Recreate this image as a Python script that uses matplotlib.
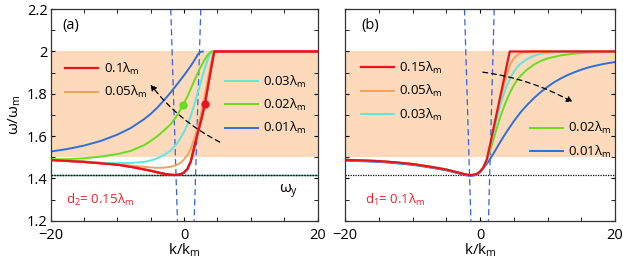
import numpy as np
import matplotlib.pyplot as plt
from matplotlib.ticker import MultipleLocator

plt.rcParams['font.family'] = ['Open Sans', 'DejaVu Sans']
plt.rcParams['mathtext.fontset'] = 'custom'
plt.rcParams['mathtext.rm'] = 'Open Sans'
plt.rcParams['mathtext.it'] = 'Open Sans'

# colours of the five curves
c_red, c_orange, c_cyan = '#e8141c', '#f0a25e', '#5ee6e0'
c_green, c_blue = '#66dd1e', '#2f6fd8'
band_color = '#fcdabb'

# ---------------- panel (a): d2 = 0.15 lambda_m -----------------
a_red_k = [-20, -15, -10, -7.5, -5, -3.5, -2.5, -1.5, -1, -0.5, 0, 0.5, 1, 1.5, 2, 2.5, 3.1, 3.7, 4.5, 20]
a_red_w = [1.487, 1.478, 1.465, 1.452, 1.436, 1.425, 1.419, 1.416, 1.417, 1.42, 1.428, 1.445,
           1.48, 1.545, 1.61, 1.67, 1.75, 1.86, 2.0, 2.0]
a_orange_k = [-20, -15, -10, -7.5, -5, -4, -3, -2, -1, -0.5, 0, 0.5, 1, 1.5, 2, 2.5, 3, 3.5, 4,
              4.3, 4.45]
a_orange_w = [1.487, 1.48, 1.468, 1.459, 1.452, 1.45, 1.451, 1.455, 1.465, 1.475, 1.49, 1.51,
              1.54, 1.585, 1.64, 1.70, 1.775, 1.86, 1.94, 1.985, 2.0]
a_cyan_k = [-20, -17.5, -15, -12.5, -10, -8, -6, -5, -4, -3, -2, -1, 0, 0.5, 1, 1.5, 2, 2.5, 3,
            3.5, 3.8, 4.1]
a_cyan_w = [1.488, 1.483, 1.478, 1.474, 1.472, 1.473, 1.478, 1.485, 1.495, 1.51, 1.532, 1.568,
            1.62, 1.655, 1.695, 1.745, 1.80, 1.855, 1.91, 1.958, 1.985, 2.0]
a_green_k = [-20, -17.5, -15, -12.5, -10, -8, -6, -5, -4, -3, -2, -1, -0.2, 0.5, 1, 1.5, 2, 2.5,
             3, 3.5, 3.9, 4.2]
a_green_w = [1.49, 1.491, 1.495, 1.503, 1.515, 1.53, 1.557, 1.577, 1.6, 1.627, 1.657, 1.70,
             1.745, 1.787, 1.824, 1.86, 1.895, 1.928, 1.957, 1.982, 1.996, 2.0]
a_blue_k = [-20, -17.5, -15, -12.5, -10, -8, -6, -5, -4, -3, -2, -1, 0, 0.5, 1, 1.5, 1.8, 2.1,
            2.4, 2.8]
a_blue_w = [1.527, 1.539, 1.555, 1.577, 1.607, 1.638, 1.68, 1.705, 1.735, 1.77, 1.807, 1.847,
            1.888, 1.91, 1.932, 1.956, 1.972, 1.988, 1.997, 2.0]
a_labels = ['0.1λ$_\\mathregular{m}$', '0.05λ$_\\mathregular{m}$', '0.03λ$_\\mathregular{m}$',
            '0.02λ$_\\mathregular{m}$', '0.01λ$_\\mathregular{m}$']
a_dots_k = [-0.2, 3.1]
a_dots_w = [1.745, 1.75]

# ---------------- panel (b): d1 = 0.1 lambda_m -----------------
b_base_k = [-20, -15, -12.5, -10, -7.5, -5, -4, -3, -2, -1.5, -1, -0.5, 0, 0.5]
b_base_w = [1.488, 1.482, 1.476, 1.468, 1.456, 1.442, 1.434, 1.426, 1.418, 1.416, 1.417, 1.421,
            1.432, 1.452]
b_red_k = [1, 1.5, 2.5, 3.5, 4.4, 20]
b_red_w = [1.49, 1.56, 1.712, 1.863, 2.0, 2.0]
b_orange_k = [1, 1.5, 2, 2.5, 3, 3.5, 4, 4.5, 5, 5.5, 6, 7, 8, 20]
b_orange_w = [1.488, 1.55, 1.632, 1.705, 1.772, 1.835, 1.895, 1.94, 1.967, 1.983, 1.992, 1.998,
              2.0, 2.0]
b_cyan_k = [1, 1.5, 2, 2.5, 3, 3.5, 4, 4.5, 5, 5.5, 6, 7, 8, 9, 10, 12, 20]
b_cyan_w = [1.485, 1.545, 1.615, 1.685, 1.745, 1.797, 1.84, 1.875, 1.903, 1.925, 1.942, 1.965,
            1.98, 1.989, 1.994, 1.999, 2.0]
b_green_k = [1, 1.5, 2, 2.5, 3, 3.5, 4, 4.5, 5, 5.5, 6, 7, 8, 9, 10, 12, 14, 16, 20]
b_green_w = [1.48, 1.53, 1.585, 1.64, 1.69, 1.735, 1.775, 1.81, 1.84, 1.865, 1.885, 1.915, 1.938,
             1.955, 1.967, 1.982, 1.99, 1.995, 1.998]
b_blue_k = [1, 1.5, 2, 2.5, 3, 3.5, 4, 5, 6, 7, 8, 9, 10, 11, 12, 13, 14, 15, 16, 17, 18, 19, 20]
b_blue_w = [1.468, 1.492, 1.518, 1.545, 1.572, 1.598, 1.623, 1.67, 1.712, 1.748, 1.78, 1.808,
            1.833, 1.855, 1.873, 1.889, 1.902, 1.914, 1.924, 1.932, 1.939, 1.945, 1.95]
b_labels = ['0.15λ$_\\mathregular{m}$', '0.05λ$_\\mathregular{m}$', '0.03λ$_\\mathregular{m}$',
            '0.02λ$_\\mathregular{m}$', '0.01λ$_\\mathregular{m}$']

# band, threshold and the two tilted light lines
band = (1.5, 2.0)
omega_y = 1.414
a_light = [([-2.0, -1.0], [2.2, 1.2]), ([2.5, 1.5], [2.2, 1.2])]
b_light = [([-2.3, -1.35], [2.2, 1.2]), ([2.1, 1.25], [2.2, 1.2])]


fig = plt.figure(figsize=(6.23, 2.58), dpi=100)
axa = fig.add_axes([0.0813, 0.1445, 0.4285, 0.82])
axb = fig.add_axes([0.5538, 0.1445, 0.4334, 0.82])

def style(ax):
    ax.set_xlim(-20, 20)
    ax.set_ylim(1.2, 2.2)
    ax.set_xticks([-20, 0, 20])
    ax.set_yticks([1.2, 1.4, 1.6, 1.8, 2.0, 2.2])
    ax.xaxis.set_minor_locator(MultipleLocator(5))
    ax.yaxis.set_minor_locator(MultipleLocator(0.1))
    ax.tick_params(which='both', direction='in', top=True, right=True, labelsize=10.5)
    ax.tick_params(axis='x', pad=5)
    ax.tick_params(axis='y', pad=2)
    ax.tick_params(which='both', length=3)
    for s in ax.spines.values():
        s.set_linewidth(0.9)
        s.set_color('#333333')
    ax.axhspan(band[0], band[1], color=band_color, lw=0, zorder=0)
    ax.set_xlabel('k/k$_\\mathregular{m}$', fontsize=11, labelpad=-1)

style(axa)
style(axb)
axa.set_yticklabels(['1.2', '1.4', '1.6', '1.8', '2', '2.2'])
axb.set_yticklabels([])
axa.set_ylabel('ω/ω$_\\mathregular{m}$', fontsize=11, labelpad=3)

leg_kw = dict(frameon=False, fontsize=9.5, handlelength=2.5, handletextpad=0.4,
              labelspacing=0.55, borderpad=0, borderaxespad=0)

# ---- panel (a)
axa.axhline(omega_y, color='#3aa58c', lw=1.0, zorder=1)
axa.axhline(omega_y, color='k', lw=1.0, ls=(0, (1, 1)), zorder=1)
for xs, ys in a_light:
    axa.plot(xs, ys, color='#3560e6', lw=0.9, ls=(0, (5, 3)), zorder=2)
ha = []
for k, w, c, lw in [(a_red_k, a_red_w, c_red, 1.6), (a_orange_k, a_orange_w, c_orange, 1.4),
                    (a_cyan_k, a_cyan_w, c_cyan, 1.4), (a_green_k, a_green_w, c_green, 1.4),
                    (a_blue_k, a_blue_w, c_blue, 1.4)]:
    ha.append(axa.plot(k, w, color=c, lw=lw)[0])
axa.plot(a_red_k, a_red_w, color=c_red, lw=1.6, zorder=3)
axa.plot(a_dots_k[0], a_dots_w[0], 'o', color=c_green, ms=5, zorder=4)
axa.plot(a_dots_k[1], a_dots_w[1], 'o', color=c_red, ms=5, zorder=4)
axa.annotate('', xy=(-5.3, 1.855), xytext=(5.7, 1.566),
             arrowprops=dict(arrowstyle='-|>', color='k', lw=0.9, ls=(0, (4, 3)),
                             connectionstyle='arc3,rad=-0.12', mutation_scale=9))
la = axa.legend(ha[:2], a_labels[:2], loc='upper left', bbox_to_anchor=(0.055, 0.755), **leg_kw)
axa.add_artist(la)
axa.legend(ha[2:], a_labels[2:], loc='upper left', bbox_to_anchor=(0.652, 0.695), **leg_kw)
axa.text(0.056, 0.097, 'd$_\\mathregular{2}$= 0.15λ$_\\mathregular{m}$', transform=axa.transAxes,
         color='#f0202a', fontsize=9.5, va='center')
axa.text(14.2, 1.34, 'ω$_\\mathregular{y}$', fontsize=11, va='center')
axa.text(0.045, 0.925, '(a)', transform=axa.transAxes, fontsize=10.5, va='center')

# ---- panel (b)
axb.axhline(omega_y, color='k', lw=0.9, ls=(0, (1, 1)), zorder=1)
for xs, ys in b_light:
    axb.plot(xs, ys, color='#3560e6', lw=0.9, ls=(0, (5, 3)), zorder=2)
hb = []
for k, w, c, lw in [(b_blue_k, b_blue_w, c_blue, 1.4), (b_green_k, b_green_w, c_green, 1.4),
                    (b_cyan_k, b_cyan_w, c_cyan, 1.4), (b_orange_k, b_orange_w, c_orange, 1.4),
                    (b_red_k, b_red_w, c_red, 1.6)]:
    kk = b_base_k + k
    ww = [v - (0.004 if c == c_blue else 0) for v in b_base_w] + w
    hb.append(axb.plot(kk, ww, color=c, lw=lw)[0])
hb = hb[::-1]
axb.annotate('', xy=(14.1, 1.754), xytext=(0.0, 1.904),
             arrowprops=dict(arrowstyle='-|>', color='k', lw=0.9, ls=(0, (4, 3)),
                             connectionstyle='arc3,rad=-0.1', mutation_scale=9))
lb = axb.legend(hb[:3], b_labels[:3], loc='upper left', bbox_to_anchor=(0.06, 0.76), **leg_kw)
axb.add_artist(lb)
axb.legend(hb[3:], b_labels[3:], loc='upper left', bbox_to_anchor=(0.685, 0.475), **leg_kw)
axb.text(0.074, 0.097, 'd$_\\mathregular{1}$= 0.1λ$_\\mathregular{m}$', transform=axb.transAxes,
         color='#f0202a', fontsize=9.5, va='center')
axb.text(0.06, 0.925, '(b)', transform=axb.transAxes, fontsize=10.5, va='center')

fig.savefig('out.png', dpi=100)
